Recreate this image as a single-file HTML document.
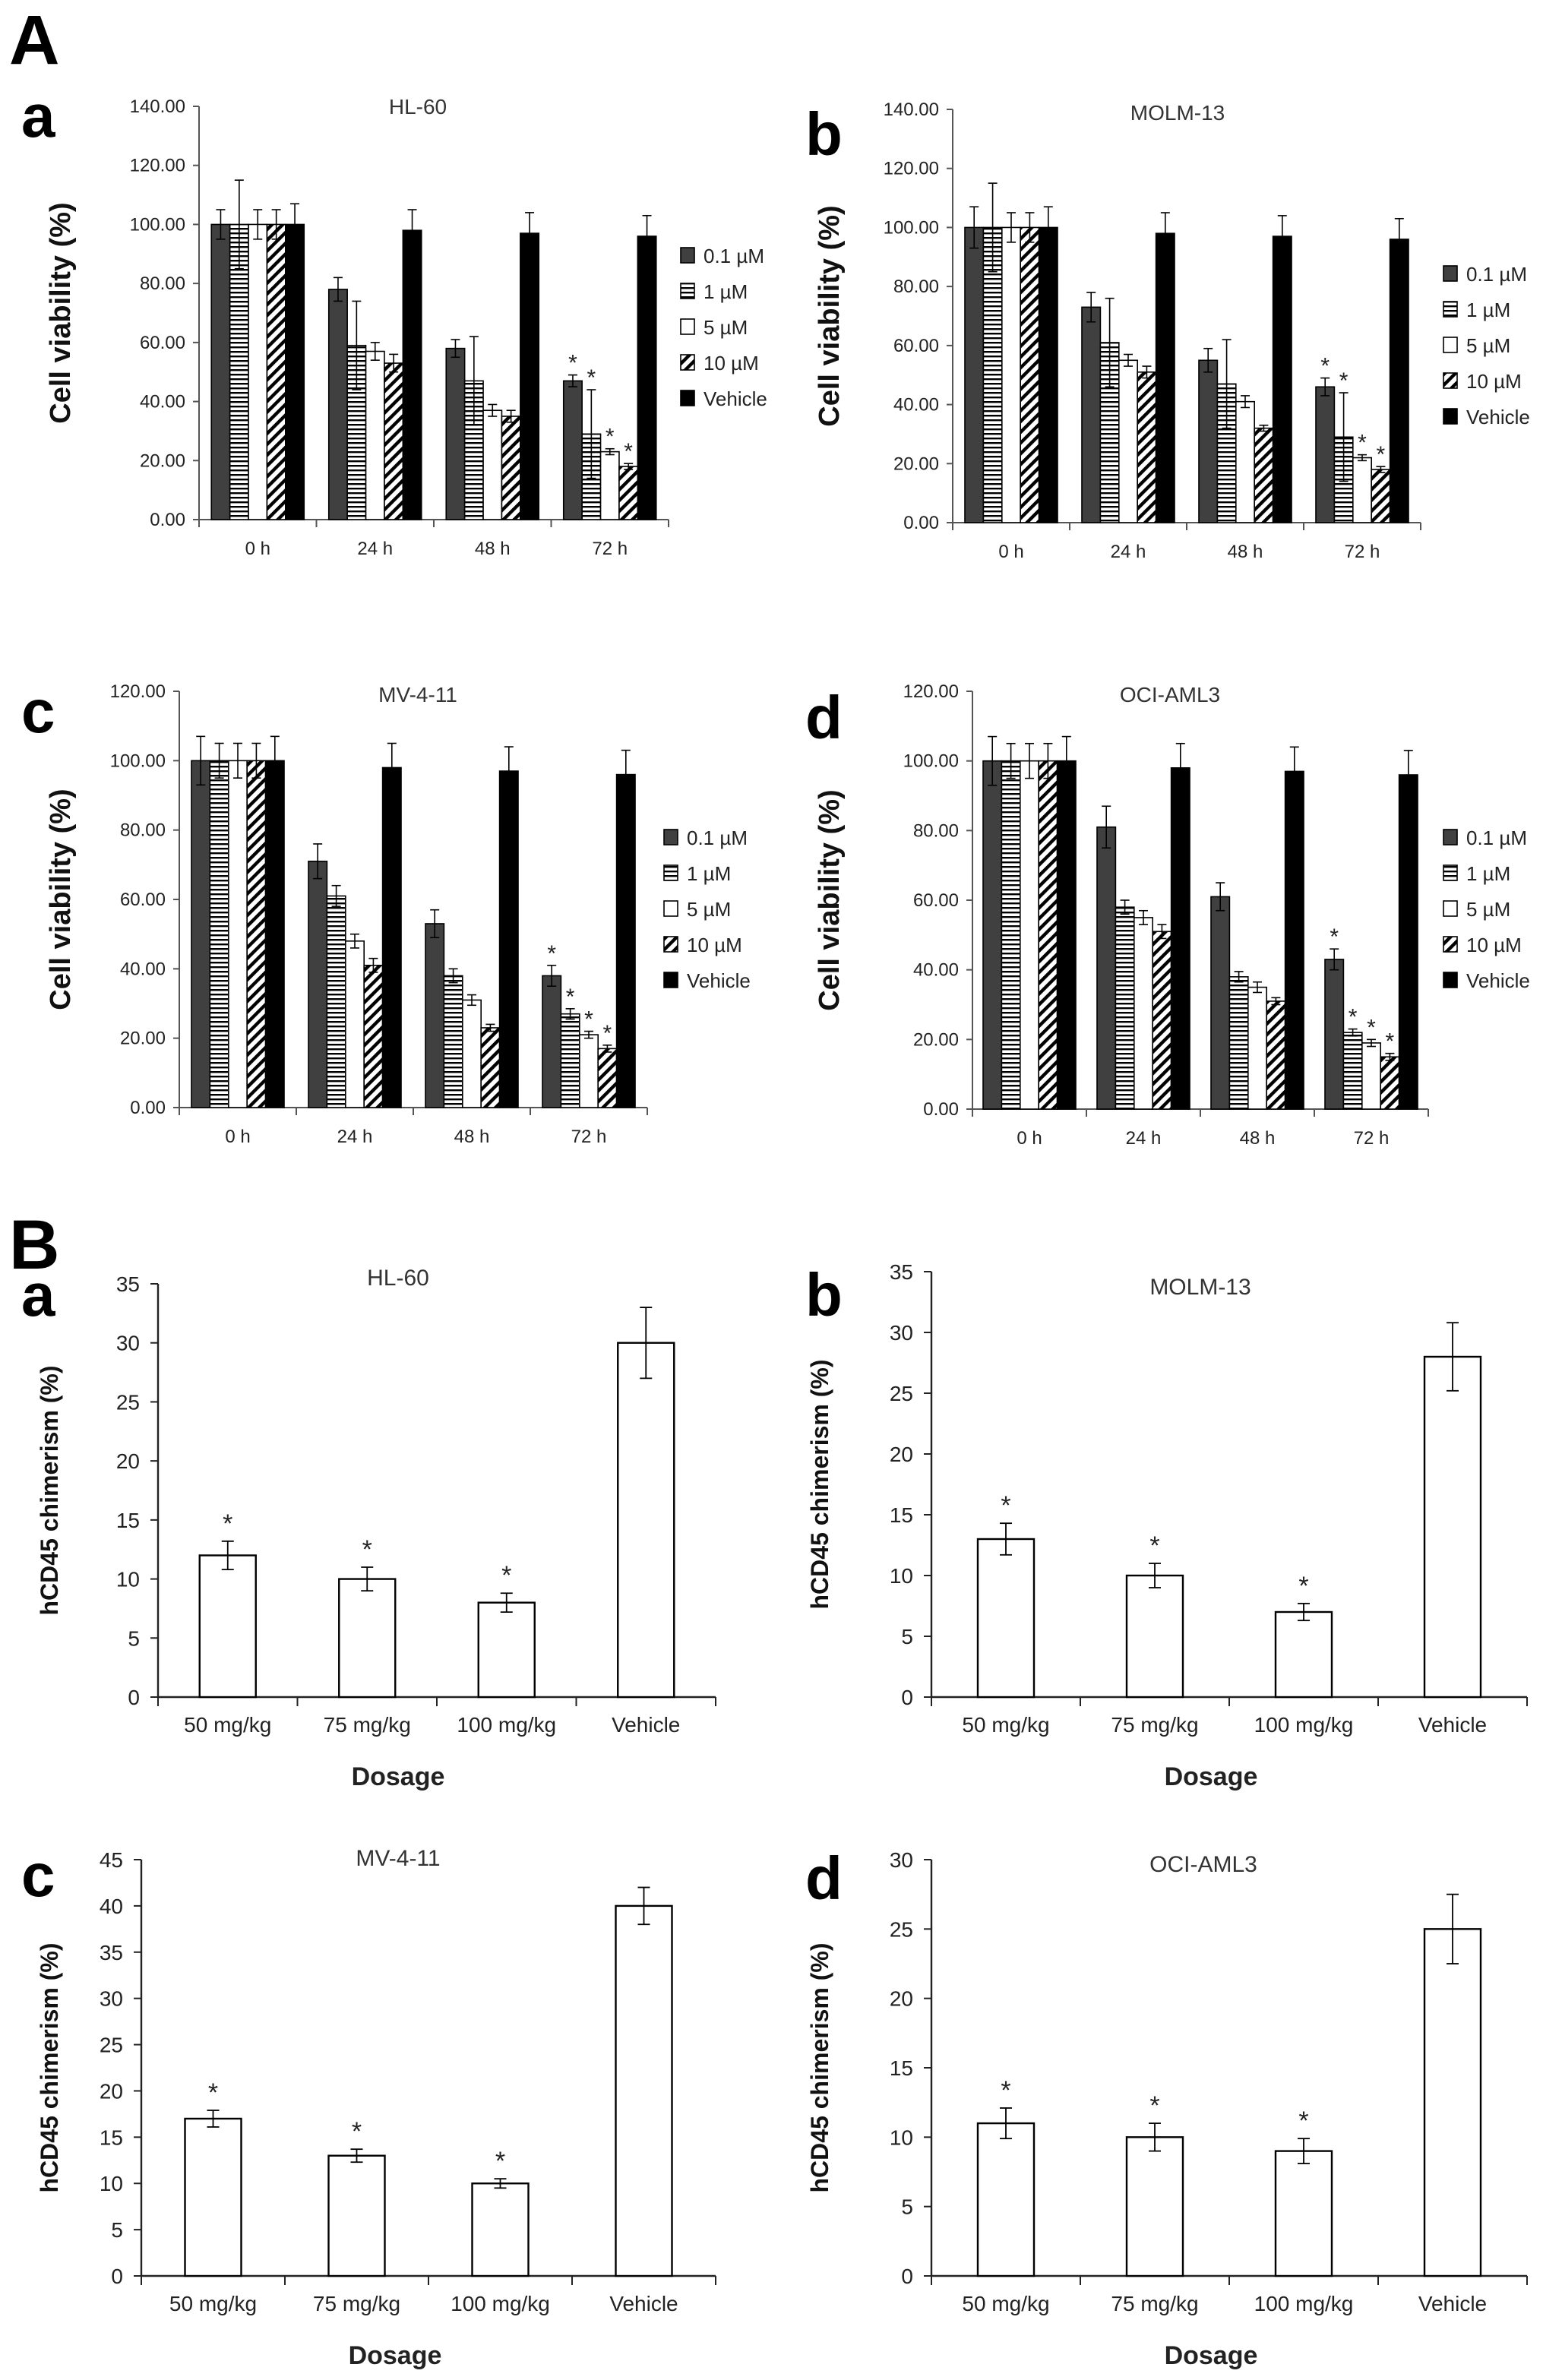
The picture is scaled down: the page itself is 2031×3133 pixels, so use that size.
<!DOCTYPE html>
<html><head><meta charset="utf-8"><style>
html,body{margin:0;padding:0;background:#fff;}
svg{display:block;}
text{font-family:"Liberation Sans",sans-serif;}
</style></head><body>
<svg id="fig" width="2031" height="3133" viewBox="0 0 1015.5 1566.5" xmlns="http://www.w3.org/2000/svg">
<defs>
<pattern id="hstripe" width="4" height="3" patternUnits="userSpaceOnUse"><rect width="4" height="3" fill="#fff"/><rect y="0" width="4" height="1.2" fill="#000"/></pattern>
<pattern id="diag" width="5" height="5" patternUnits="userSpaceOnUse" patternTransform="rotate(45)"><rect width="5" height="5" fill="#fff"/><rect width="2.2" height="5" fill="#000"/></pattern>
</defs>
<g id="root"></g>
</svg>
<script>
// ---- Panel A data (cell viability %) ----
const timeCats = ["0 h","24 h","48 h","72 h"];
const seriesNames = ["0.1 µM","1 µM","5 µM","10 µM","Vehicle"];
const aTicks = [0,20,40,60,80,100,120,140];
const cTicks = [0,20,40,60,80,100,120];
const Aa_vals = [[100,78,58,47],[100,59,47,29],[100,57,37,23],[100,53,35,18],[100,98,97,96]];
const Aa_errs = [[5,4,3,2],[15,15,15,15],[5,3,2,1],[5,3,2,1],[7,7,7,7]];
const Ab_vals = [[100,73,55,46],[100,61,47,29],[100,55,41,22],[100,51,32,18],[100,98,97,96]];
const Ab_errs = [[7,5,4,3],[15,15,15,15],[5,2,2,1],[5,2,1,1],[7,7,7,7]];
const Ac_vals = [[100,71,53,38],[100,61,38,27],[100,48,31,21],[100,41,23,17],[100,98,97,96]];
const Ac_errs = [[7,5,4,3],[5,3,2,1.5],[5,2,1.5,1],[5,2,1,1],[7,7,7,7]];
const Ad_vals = [[100,81,61,43],[100,58,38,22],[100,55,35,19],[100,51,31,15],[100,98,97,96]];
const Ad_errs = [[7,6,4,3],[5,2,1.5,1],[5,2,1.5,1],[5,2,1,1],[7,7,7,7]];
const starsA = [false,false,false,true];
// ---- Panel B data (hCD45 chimerism %) ----
const doseCats = ["50 mg/kg","75 mg/kg","100 mg/kg","Vehicle"];
const Ba_vals = [12,10,8,30], Ba_errs = [1.2,1,0.8,3];
const Bb_vals = [13,10,7,28], Bb_errs = [1.3,1,0.7,2.8];
const Bc_vals = [17,13,10,40], Bc_errs = [0.9,0.7,0.5,2];
const Bd_vals = [11,10,9,25], Bd_errs = [1.1,1,0.9,2.5];
const starsB = [true,true,true,false];
const bTicks35 = [0,5,10,15,20,25,30,35];
const bTicks45 = [0,5,10,15,20,25,30,35,40,45];
const bTicks30 = [0,5,10,15,20,25,30];

const NS="http://www.w3.org/2000/svg";
const root=document.getElementById('root');
function mk(tag,attrs,parent,txt){const e=document.createElementNS(NS,tag);for(const k in attrs)e.setAttribute(k,attrs[k]);if(txt!==undefined)e.textContent=txt;(parent||root).appendChild(e);return e;}
const fills=["#404040","url(#hstripe)","#fff","url(#diag)","#000"];

function panelA(cfg){
  const g=mk('g',{});
  
  
  const maxV=cfg.ticks[cfg.ticks.length-1];
  const y=v=>cfg.y0-(v/maxV)*(cfg.y0-cfg.yTop);
  const n=timeCats.length, cw=(cfg.x1-cfg.x0)/n, bw=12.2;
  mk('line',{x1:cfg.x0,y1:cfg.yTop,x2:cfg.x0,y2:cfg.y0,stroke:'#555','stroke-width':1},g);
  mk('line',{x1:cfg.x0,y1:cfg.y0,x2:cfg.x1,y2:cfg.y0,stroke:'#555','stroke-width':1},g);
  cfg.ticks.forEach(t=>{
    mk('line',{x1:cfg.x0-4,y1:y(t),x2:cfg.x0,y2:y(t),stroke:'#555'},g);
    const tl=mk('text',{x:cfg.x0-9,y:y(t)+4,'text-anchor':'end','font-size':12,fill:'#222'},g,t.toFixed(2));
    
    
  });
  for(let i=0;i<=n;i++) mk('line',{x1:cfg.x0+i*cw,y1:cfg.y0,x2:cfg.x0+i*cw,y2:cfg.y0+5,stroke:'#555'},g);
  timeCats.forEach((c,i)=>{
    const tl=mk('text',{x:cfg.x0+(i+0.5)*cw,y:cfg.y0+23,'text-anchor':'middle','font-size':12,fill:'#222'},g,c);
    
    
    const gx=cfg.x0+(i+0.5)*cw-2.5*bw;
    cfg.vals.forEach((sv,s)=>{
      const v=sv[i], e=cfg.errs[s][i], bx=gx+s*bw;
      const r=mk('rect',{x:bx,y:y(v),width:bw,height:cfg.y0-y(v),fill:fills[s],stroke:'#000','stroke-width':0.8},g);
      
      
      const cx=bx+bw/2;
      mk('line',{x1:cx,y1:y(v-e),x2:cx,y2:y(v+e),stroke:'#000','stroke-width':0.8},g);
      mk('line',{x1:cx-3,y1:y(v+e),x2:cx+3,y2:y(v+e),stroke:'#000','stroke-width':0.8},g);
      mk('line',{x1:cx-3,y1:y(v-e),x2:cx+3,y2:y(v-e),stroke:'#000','stroke-width':0.8},g);
      if(starsA[i]&&s<4){
        const st=mk('text',{x:cx,y:y(v+e)-3,'text-anchor':'middle','font-size':15,fill:'#222'},g,'*');
        
        
      }
    });
  });
  const t=mk('text',{x:cfg.tx,y:cfg.ty,'text-anchor':'middle','font-size':14,'font-family':'Liberation Serif,serif',fill:'#333'},g,cfg.title);
  
  
  const yl=mk('text',{x:0,y:0,'text-anchor':'middle','font-size':19,'font-weight':'bold',fill:'#111',transform:`translate(${cfg.ylx},${(cfg.yTop+cfg.y0)/2}) rotate(-90)`},g,'Cell viability (%)');
  
  
  seriesNames.forEach((nm,s)=>{
    const ly=cfg.ly+s*23.5;
    const le=mk('g',{},g);
    
    
    mk('rect',{x:cfg.lx,y:ly-5,width:9,height:10,fill:fills[s],stroke:'#000','stroke-width':0.8},le);
    mk('text',{x:cfg.lx+15,y:ly+5,'font-size':13,fill:'#222'},le,nm);
  });
  const pl=mk('text',{x:cfg.px,y:cfg.py,'font-size':40,'font-weight':'bold',fill:'#000'},g,cfg.letter);
  
  
}

function panelB(cfg){
  const g=mk('g',{});
  
  
  const maxV=cfg.ticks[cfg.ticks.length-1];
  const y=v=>cfg.y0-(v/maxV)*(cfg.y0-cfg.yTop);
  const n=doseCats.length, cw=(cfg.x1-cfg.x0)/n, bw=37;
  mk('line',{x1:cfg.x0,y1:cfg.yTop,x2:cfg.x0,y2:cfg.y0,stroke:'#222','stroke-width':1.2},g);
  mk('line',{x1:cfg.x0,y1:cfg.y0,x2:cfg.x1,y2:cfg.y0,stroke:'#222','stroke-width':1.2},g);
  cfg.ticks.forEach(t=>{
    mk('line',{x1:cfg.x0-5,y1:y(t),x2:cfg.x0,y2:y(t),stroke:'#222'},g);
    const tl=mk('text',{x:cfg.x0-12,y:y(t)+5,'text-anchor':'end','font-size':14,fill:'#222'},g,String(t));
    
    
  });
  for(let i=0;i<=n;i++) mk('line',{x1:cfg.x0+i*cw,y1:cfg.y0,x2:cfg.x0+i*cw,y2:cfg.y0+6,stroke:'#222'},g);
  doseCats.forEach((c,i)=>{
    const cx=cfg.x0+(i+0.5)*cw;
    const tl=mk('text',{x:cx,y:cfg.y0+23,'text-anchor':'middle','font-size':14,fill:'#222'},g,c);
    
    
    const v=cfg.vals[i], e=cfg.errs[i];
    const r=mk('rect',{x:cx-bw/2,y:y(v),width:bw,height:cfg.y0-y(v),fill:'#fff',stroke:'#000','stroke-width':1.2},g);
    
    
    mk('line',{x1:cx,y1:y(v-e),x2:cx,y2:y(v+e),stroke:'#000','stroke-width':0.9},g);
    mk('line',{x1:cx-4,y1:y(v+e),x2:cx+4,y2:y(v+e),stroke:'#000','stroke-width':0.9},g);
    mk('line',{x1:cx-4,y1:y(v-e),x2:cx+4,y2:y(v-e),stroke:'#000','stroke-width':0.9},g);
    if(starsB[i]){
      const st=mk('text',{x:cx,y:y(v+e)-6,'text-anchor':'middle','font-size':17,fill:'#222'},g,'*');
      
      
    }
  });
  const t=mk('text',{x:cfg.tx,y:cfg.ty,'text-anchor':'middle','font-size':15,'font-family':'Liberation Serif,serif',fill:'#333'},g,cfg.title);
  
  
  const xl=mk('text',{x:cfg.dx,y:cfg.y0+58,'text-anchor':'middle','font-size':17,'font-weight':'bold',fill:'#222'},g,'Dosage');
  
  
  const yl=mk('text',{x:0,y:0,'text-anchor':'middle','font-size':16,'font-weight':'bold',fill:'#111',transform:`translate(${cfg.ylx},${(cfg.yTop+cfg.y0)/2}) rotate(-90)`},g,'hCD45 chimerism (%)');
  
  
  const pl=mk('text',{x:cfg.px,y:cfg.py,'font-size':40,'font-weight':'bold',fill:'#000'},g,cfg.letter);
  
  
}

const bigA=mk('text',{x:6,y:42,'font-size':46,'font-weight':'bold',fill:'#000'},root,'A');


const bigB=mk('text',{x:6,y:835,'font-size':46,'font-weight':'bold',fill:'#000'},root,'B');



panelA({name:'panel-a-hl60',vals:Aa_vals,errs:Aa_errs,ticks:aTicks,x0:131,x1:440,yTop:70,y0:342,title:'HL-60',tx:275,ty:75,ylx:46,lx:448,ly:168,letter:'a',px:14,py:90});
panelA({name:'panel-a-molm13',vals:Ab_vals,errs:Ab_errs,ticks:aTicks,x0:627,x1:935,yTop:72,y0:344,title:'MOLM-13',tx:775,ty:79,ylx:552,lx:950,ly:180,letter:'b',px:530,py:102});
panelA({name:'panel-a-mv411',vals:Ac_vals,errs:Ac_errs,ticks:cTicks,x0:118,x1:426,yTop:455,y0:729,title:'MV-4-11',tx:275,ty:462,ylx:46,lx:437,ly:551,letter:'c',px:14,py:482});
panelA({name:'panel-a-ociaml3',vals:Ad_vals,errs:Ad_errs,ticks:cTicks,x0:640,x1:940,yTop:455,y0:730,title:'OCI-AML3',tx:770,ty:462,ylx:552,lx:950,ly:551,letter:'d',px:530,py:486});

panelB({name:'panel-b-hl60',vals:Ba_vals,errs:Ba_errs,ticks:bTicks35,x0:104,x1:471,yTop:845,y0:1117,title:'HL-60',tx:262,ty:846,ylx:38,letter:'a',px:14,py:866,dx:262});
panelB({name:'panel-b-molm13',vals:Bb_vals,errs:Bb_errs,ticks:bTicks35,x0:613,x1:1005,yTop:837,y0:1117,title:'MOLM-13',tx:790,ty:852,ylx:545,letter:'b',px:530,py:866,dx:797});
panelB({name:'panel-b-mv411',vals:Bc_vals,errs:Bc_errs,ticks:bTicks45,x0:93,x1:471,yTop:1224,y0:1498,title:'MV-4-11',tx:262,ty:1228,ylx:38,letter:'c',px:14,py:1248,dx:260});
panelB({name:'panel-b-ociaml3',vals:Bd_vals,errs:Bd_errs,ticks:bTicks30,x0:613,x1:1005,yTop:1224,y0:1498,title:'OCI-AML3',tx:792,ty:1232,ylx:545,letter:'d',px:530,py:1250,dx:797});
</script>
</body></html>
